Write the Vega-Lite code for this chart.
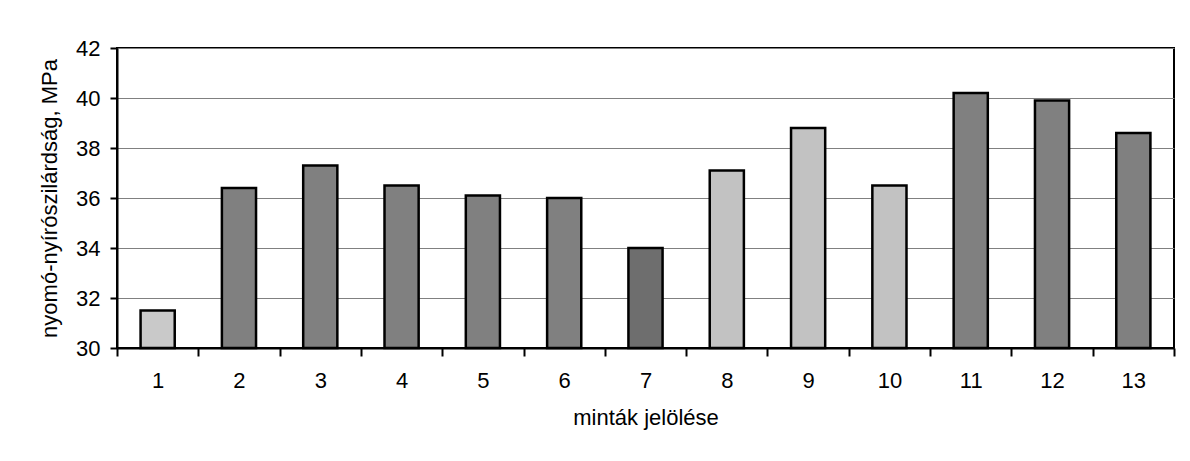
{
  "$schema": "https://vega.github.io/schema/vega-lite/v6.json",
  "autosize": "none",
  "padding": {"left": 117, "top": 48, "right": 16, "bottom": 113},
  "width": 1057,
  "height": 300,
  "background": "white",
  "config": {
    "font": "Liberation Sans",
    "view": {"stroke": "black", "strokeWidth": 2},
    "axis": {"labelFont": "Liberation Sans", "titleFont": "Liberation Sans", "labelColor": "black", "titleColor": "black", "titleFontWeight": "normal"}
  },
  "data": {
    "values": [
      {"minta": "1", "ertek": 31.5, "csoport": "A"},
      {"minta": "2", "ertek": 36.4, "csoport": "B"},
      {"minta": "3", "ertek": 37.3, "csoport": "B"},
      {"minta": "4", "ertek": 36.5, "csoport": "B"},
      {"minta": "5", "ertek": 36.1, "csoport": "B"},
      {"minta": "6", "ertek": 36.0, "csoport": "B"},
      {"minta": "7", "ertek": 34.0, "csoport": "C"},
      {"minta": "8", "ertek": 37.1, "csoport": "D"},
      {"minta": "9", "ertek": 38.8, "csoport": "D"},
      {"minta": "10", "ertek": 36.5, "csoport": "D"},
      {"minta": "11", "ertek": 40.2, "csoport": "B"},
      {"minta": "12", "ertek": 39.9, "csoport": "B"},
      {"minta": "13", "ertek": 38.6, "csoport": "B"}
    ]
  },
  "mark": {"type": "bar", "width": {"band": 0.42}, "stroke": "black", "strokeWidth": 2.5},
  "encoding": {
    "x": {
      "field": "minta",
      "type": "nominal",
      "sort": null,
      "scale": {"paddingInner": 0, "paddingOuter": 0},
      "axis": {
        "title": "minták jelölése",
        "titleFontSize": 22,
        "titlePadding": 16,
        "labelFontSize": 22,
        "labelAngle": 0,
        "labelPadding": 14,
        "tickBand": "extent",
        "tickColor": "black",
        "tickWidth": 2,
        "tickSize": 8,
        "domainColor": "black",
        "domainWidth": 2,
        "grid": false
      }
    },
    "y": {
      "field": "ertek",
      "type": "quantitative",
      "scale": {"domain": [30, 42], "zero": false, "nice": false},
      "axis": {
        "title": "nyomó-nyírószilárdság, MPa",
        "titleFontSize": 22,
        "titlePadding": 14,
        "labelFontSize": 22,
        "labelPadding": 10,
        "values": [30, 32, 34, 36, 38, 40, 42],
        "tickColor": "black",
        "tickWidth": 2,
        "tickSize": 7,
        "domainColor": "black",
        "domainWidth": 2,
        "grid": true,
        "gridColor": "#808080",
        "gridWidth": 1
      }
    },
    "y2": {"datum": 30},
    "fill": {
      "field": "csoport",
      "type": "nominal",
      "scale": {"domain": ["A", "B", "C", "D"], "range": ["#c9c9c9", "#808080", "#6e6e6e", "#c2c2c2"]},
      "legend": null
    }
  }
}
